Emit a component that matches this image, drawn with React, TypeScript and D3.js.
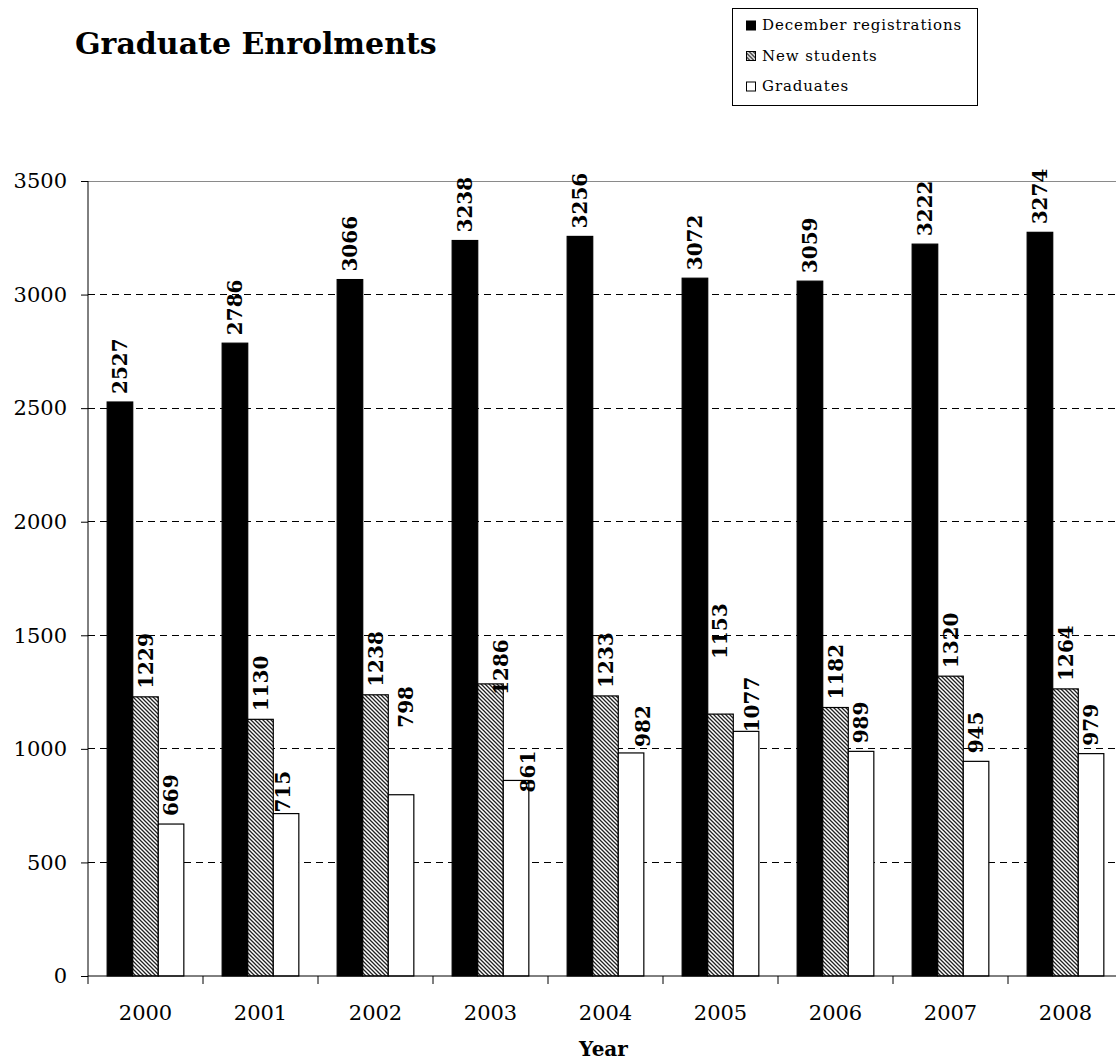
import { useEffect, useRef } from "react";
import * as d3 from "d3";

// chart data
const years = ["2000", "2001", "2002", "2003", "2004", "2005", "2006", "2007", "2008"];
const seriesNames = ["December registrations", "New students", "Graduates"];
const decemberRegistrations = [2527, 2786, 3066, 3238, 3256, 3072, 3059, 3222, 3274];
const newStudents = [1229, 1130, 1238, 1286, 1233, 1153, 1182, 1320, 1264];
const graduates = [669, 715, 798, 861, 982, 1077, 989, 945, 979];
const yTicks = [0, 500, 1000, 1500, 2000, 2500, 3000, 3500];

// labels that were dragged by hand in the original (pixel nudges, +dy = lower)
const labelNudges = [
  { year: "2001", series: "Graduates", dx: -3, dy: 7 },
  { year: "2002", series: "Graduates", dx: 5, dy: -59 },
  { year: "2003", series: "New students", dx: 10, dy: 19 },
  { year: "2003", series: "Graduates", dx: 12, dy: 20 },
  { year: "2004", series: "Graduates", dx: 12, dy: 2 },
  { year: "2005", series: "New students", dx: -1, dy: -47 },
  { year: "2005", series: "Graduates", dx: 6, dy: 9 },
];

const FONT = "'DejaVu Serif', serif";

export default function App() {
  const svgRef = useRef<SVGSVGElement>(null);

  useEffect(() => {
    const width = 1116;
    const height = 1061;
    const plot = { left: 88, top: 181, bottom: 976, right: 88 + 115 * years.length };

    const svg = d3.select(svgRef.current).attr("width", width).attr("height", height);
    svg.selectAll("*").remove();

    const defs = svg.append("defs");
    const pat = defs
      .append("pattern")
      .attr("id", "hatch")
      .attr("patternUnits", "userSpaceOnUse")
      .attr("width", 4)
      .attr("height", 4);
    pat.append("rect").attr("width", 4).attr("height", 4).attr("fill", "#fff");
    pat
      .append("path")
      .attr("d", "M-1,-1L5,5M3,-1L5,1M-1,3L1,5")
      .attr("stroke", "#222")
      .attr("stroke-width", 1.3);

    const fills: Record<string, string> = {
      "December registrations": "#000",
      "New students": "url(#hatch)",
      Graduates: "#fff",
    };

    const rows = years.map((year, i) => ({
      year,
      values: [
        { series: seriesNames[0], value: decemberRegistrations[i] },
        { series: seriesNames[1], value: newStudents[i] },
        { series: seriesNames[2], value: graduates[i] },
      ],
    }));

    const x0 = d3.scaleBand().domain(years).range([plot.left, plot.right]).padding(0);
    const x1 = d3
      .scaleBand()
      .domain(seriesNames)
      .range([0, x0.bandwidth()])
      .paddingInner(0)
      .paddingOuter(0.75);
    const y = d3.scaleLinear().domain([0, 3500]).range([plot.bottom, plot.top]);

    // gridlines
    svg
      .append("g")
      .selectAll("line")
      .data(yTicks.filter((t) => t > 0))
      .join("line")
      .attr("x1", plot.left)
      .attr("x2", plot.right)
      .attr("y1", (d) => y(d))
      .attr("y2", (d) => y(d))
      .attr("stroke", (d) => (d === 3500 ? "#8a8a8a" : "#000"))
      .attr("stroke-width", 1)
      .attr("stroke-dasharray", (d) => (d === 3500 ? null : "7,5"))
      .attr("shape-rendering", "crispEdges");

    // bars
    const groups = svg
      .append("g")
      .selectAll("g")
      .data(rows)
      .join("g")
      .attr("transform", (d) => `translate(${x0(d.year)},0)`);

    groups
      .selectAll("rect")
      .data((d) => d.values)
      .join("rect")
      .attr("x", (d) => x1(d.series) || 0)
      .attr("y", (d) => y(d.value))
      .attr("width", x1.bandwidth())
      .attr("height", (d) => y(0) - y(d.value))
      .attr("fill", (d) => fills[d.series])
      .attr("stroke", "#000")
      .attr("stroke-width", 1.2);

    // data labels
    groups
      .selectAll("text")
      .data((d) => d.values.map((v) => ({ ...v, year: d.year })))
      .join("text")
      .attr("transform", (d) => {
        const n = labelNudges.find((l) => l.year === d.year && l.series === d.series);
        const cx = (x1(d.series) || 0) + x1.bandwidth() / 2 + (n ? n.dx : 0);
        const cy = y(d.value) - 8 + (n ? n.dy : 0);
        return `translate(${cx},${cy}) rotate(-90)`;
      })
      .attr("dy", "0.36em")
      .attr("text-anchor", "start")
      .attr("font-family", FONT)
      .attr("font-weight", "bold")
      .attr("font-size", 20)
      .text((d) => d.value);

    // y axis
    const yAxis = svg
      .append("g")
      .attr("transform", `translate(${plot.left},0)`)
      .call(d3.axisLeft(y).tickValues(yTicks).tickSize(7).tickPadding(14).tickFormat(d3.format("d")));
    yAxis.select(".domain").remove();
    yAxis.selectAll(".tick line").attr("stroke", "#000");
    yAxis
      .selectAll(".tick text")
      .attr("font-family", FONT)
      .attr("font-size", 21)
      .attr("fill", "#000");
    svg
      .append("line")
      .attr("x1", plot.left)
      .attr("x2", plot.left)
      .attr("y1", plot.top)
      .attr("y2", plot.bottom)
      .attr("stroke", "#000");

    // x axis
    svg
      .append("line")
      .attr("x1", plot.left)
      .attr("x2", plot.right)
      .attr("y1", plot.bottom)
      .attr("y2", plot.bottom)
      .attr("stroke", "#000");
    svg
      .append("g")
      .selectAll("line")
      .data(d3.range(years.length + 1))
      .join("line")
      .attr("x1", (i) => plot.left + i * x0.step())
      .attr("x2", (i) => plot.left + i * x0.step())
      .attr("y1", plot.bottom)
      .attr("y2", plot.bottom + 8)
      .attr("stroke", "#000");
    svg
      .append("g")
      .selectAll("text")
      .data(years)
      .join("text")
      .attr("x", (d) => (x0(d) || 0) + x0.bandwidth() / 2)
      .attr("y", 1020)
      .attr("text-anchor", "middle")
      .attr("font-family", FONT)
      .attr("font-size", 21)
      .text((d) => d);

    svg
      .append("text")
      .attr("x", (plot.left + plot.right) / 2 - 2)
      .attr("y", 1056)
      .attr("text-anchor", "middle")
      .attr("font-family", FONT)
      .attr("font-weight", "bold")
      .attr("font-size", 20)
      .text("Year");

    // title
    svg
      .append("text")
      .attr("x", 75)
      .attr("y", 54)
      .attr("font-family", FONT)
      .attr("font-weight", "bold")
      .attr("font-size", 30)
      .text("Graduate Enrolments");

    // legend
    const legend = svg.append("g").attr("transform", "translate(732.5,8.5)");
    legend
      .append("rect")
      .attr("width", 245)
      .attr("height", 97)
      .attr("fill", "#fff")
      .attr("stroke", "#000");
    const items = legend
      .selectAll("g")
      .data(seriesNames)
      .join("g")
      .attr("transform", (_, i) => `translate(0,${i * 30.5})`);
    items
      .append("rect")
      .attr("x", 14)
      .attr("y", 12.5)
      .attr("width", 9)
      .attr("height", 9)
      .attr("fill", (d) => fills[d])
      .attr("stroke", "#000");
    items
      .append("text")
      .attr("x", 29.5)
      .attr("y", 21.5)
      .attr("font-family", FONT)
      .attr("font-size", 15)
      .attr("letter-spacing", 0.9)
      .text((d) => d);
  }, []);

  return (
    <svg ref={svgRef} style={{ position: "absolute", left: 0, top: 0, background: "#fff" }}></svg>
  );
}
